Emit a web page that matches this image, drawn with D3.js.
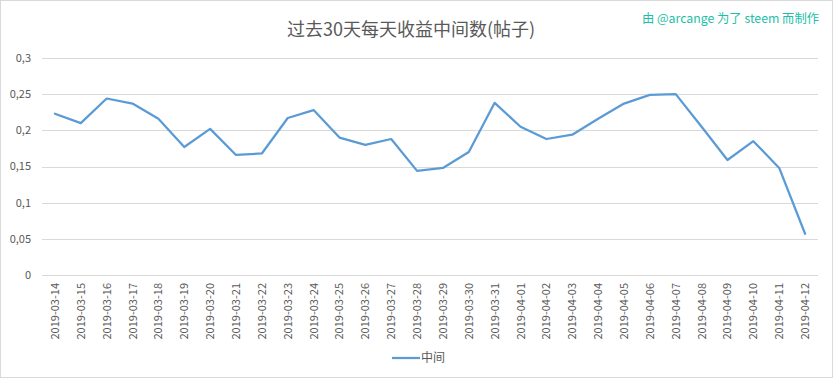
<!DOCTYPE html>
<html>
<head>
<meta charset="utf-8">
<script src="https://cdn.jsdelivr.net/npm/d3@7"></script>
<style>
  body { margin: 0; background: #fff; }
  text { font-family: "Noto Sans CJK SC", "Open Sans", sans-serif; }
</style>
</head>
<body>
<div id="chart"></div>
<script>
const dates = ["2019-03-14", "2019-03-15", "2019-03-16", "2019-03-17", "2019-03-18", "2019-03-19",
    "2019-03-20", "2019-03-21", "2019-03-22", "2019-03-23", "2019-03-24", "2019-03-25",
    "2019-03-26", "2019-03-27", "2019-03-28", "2019-03-29", "2019-03-30", "2019-03-31",
    "2019-04-01", "2019-04-02", "2019-04-03", "2019-04-04", "2019-04-05", "2019-04-06",
    "2019-04-07", "2019-04-08", "2019-04-09", "2019-04-10", "2019-04-11", "2019-04-12"];
const median = [0.223, 0.210, 0.244, 0.237, 0.216, 0.177, 0.202, 0.166, 0.168, 0.217,
    0.228, 0.190, 0.180, 0.188, 0.144, 0.148, 0.170, 0.238, 0.205, 0.188,
    0.194, 0.216, 0.237, 0.249, 0.250, 0.205, 0.159, 0.185, 0.148, 0.057];
const yTicks = [0, 0.05, 0.1, 0.15, 0.2, 0.25, 0.3];
const seriesName = "中间";
const title = "过去30天每天收益中间数(帖子)";
const credit = "由 @arcange 为了 steem 而制作";

const W = 833, H = 378;
const margin = { top: 58, right: 15, bottom: 103, left: 42 };

const svg = d3.select("#chart").append("svg")
    .attr("width", W)
    .attr("height", H);

svg.append("rect")
    .attr("x", 0.5).attr("y", 0.5)
    .attr("width", W - 1).attr("height", H - 1)
    .attr("fill", "#fff")
    .attr("stroke", "#d9d9d9");

const x = d3.scaleBand()
    .domain(dates)
    .range([margin.left, W - margin.right]);

const y = d3.scaleLinear()
    .domain([0, 0.3])
    .range([H - margin.bottom, margin.top]);

const fmt = d => String(+d.toFixed(2)).replace(".", ",");

// gridlines
svg.append("g")
    .selectAll("line")
    .data(yTicks)
    .join("line")
    .attr("x1", margin.left)
    .attr("x2", W - margin.right)
    .attr("y1", d => Math.round(y(d)) + 0.5)
    .attr("y2", d => Math.round(y(d)) + 0.5)
    .attr("stroke", "#d9d9d9")
    .attr("stroke-width", 1);

// y labels
svg.append("g")
    .selectAll("text")
    .data(yTicks)
    .join("text")
    .attr("x", 31)
    .attr("y", d => y(d))
    .attr("dy", "0.35em")
    .attr("text-anchor", "end")
    .attr("fill", "#595959")
    .attr("font-size", 11)
    .text(fmt);

// x labels, rotated
svg.append("g")
    .selectAll("text")
    .data(dates)
    .join("text")
    .attr("transform", d => `translate(${x(d) + x.bandwidth() / 2 + 4},${y(0) + 8}) rotate(-90)`)
    .attr("text-anchor", "end")
    .attr("fill", "#595959")
    .attr("font-size", 11)
    .text(d => d);

// series line
const line = d3.line()
    .x((d, i) => x(dates[i]) + x.bandwidth() / 2)
    .y(d => y(d));

svg.append("path")
    .datum(median)
    .attr("d", line)
    .attr("fill", "none")
    .attr("stroke", "#5b9bd5")
    .attr("stroke-width", 2.25)
    .attr("stroke-linejoin", "round")
    .attr("stroke-linecap", "round");

// title
svg.append("text")
    .attr("x", 411)
    .attr("y", 36)
    .attr("text-anchor", "middle")
    .attr("fill", "#595959")
    .attr("font-size", 18)
    .text(title);

svg.append("text")
    .attr("x", 819)
    .attr("y", 23)
    .attr("text-anchor", "end")
    .attr("fill", "#1cc0a6")
    .attr("font-size", 12.3)
    .text(credit);

// legend
const legend = svg.append("g").attr("transform", "translate(392,358)");
legend.append("line")
    .attr("x1", 0).attr("x2", 28)
    .attr("stroke", "#5b9bd5")
    .attr("stroke-width", 2.25);
legend.append("text")
    .attr("x", 29)
    .attr("dy", "0.35em")
    .attr("fill", "#595959")
    .attr("font-size", 12)
    .text(seriesName);
</script>
</body>
</html>
